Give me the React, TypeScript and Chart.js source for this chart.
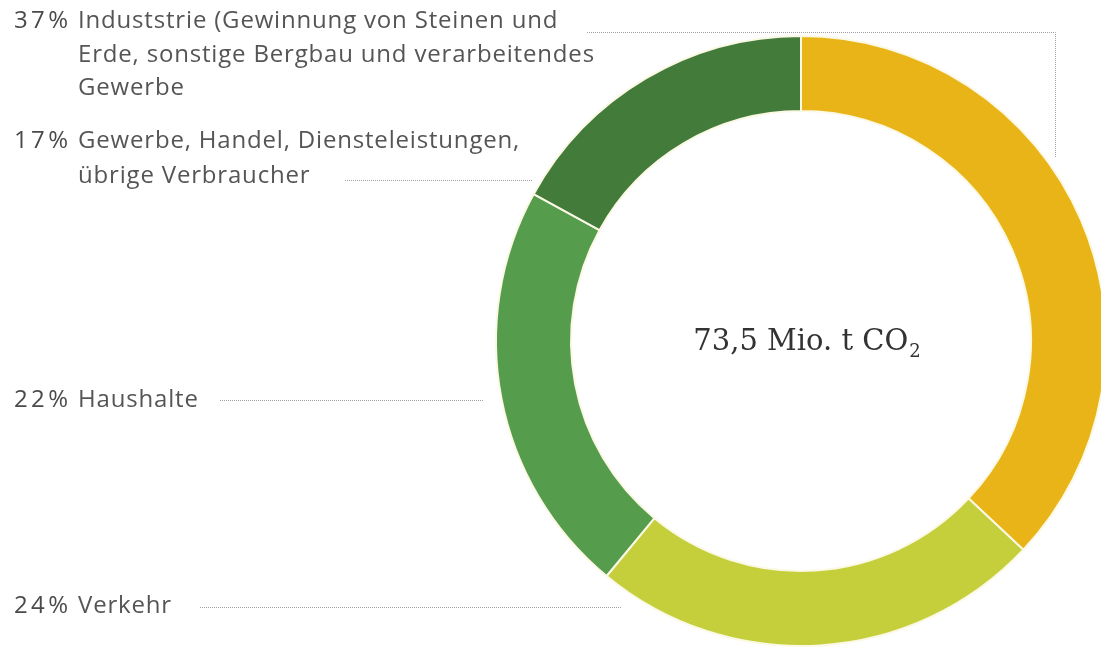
import React, { useEffect, useRef } from "react";
import { Chart, registerables } from "chart.js";

Chart.register(...registerables);

const categories = [
  "Industrie (Gewinnung von Steinen und Erde, sonstige Bergbau und verarbeitendes Gewerbe",
  "Verkehr",
  "Haushalte",
  "Gewerbe, Handel, Diensteleistungen, übrige Verbraucher",
];
const shares = [37, 24, 22, 17];
const colors = ["#E9B418", "#C4CF3B", "#559C4D", "#437B3B"];
const totalLabel = "73,5 Mio. t CO";
const totalSub = "2";

// label lines per category (as printed in the reference)
const industrieLines = ["Induststrie (Gewinnung von Steinen und", "Erde, sonstige Bergbau und verarbeitendes", "Gewerbe"];
const verkehrLines = ["Verkehr"];
const haushalteLines = ["Haushalte"];
const gewerbeLines = ["Gewerbe, Handel, Diensteleistungen,", "übrige Verbraucher"];

export default function App() {
  const ref = useRef<HTMLCanvasElement | null>(null);

  useEffect(() => {
    document.body.style.margin = "0";
    const canvas = ref.current;
    if (!canvas) return;

    const labelFont = "24px 'Open Sans'";
    const textColor = "#555555";
    const pctColor = "#4a4a4a";
    const dotColor = "#a0a0a0";

    const annot = {
      id: "annot",
      afterDraw(chart: any) {
        const ctx = chart.ctx as any;
        ctx.save();
        // dotted leader lines
        ctx.strokeStyle = dotColor;
        ctx.lineWidth = 1;
        ctx.setLineDash([1, 1]);
        const seg = (pts: number[][]) => {
          ctx.beginPath();
          ctx.moveTo(pts[0][0], pts[0][1]);
          for (let i = 1; i < pts.length; i++) ctx.lineTo(pts[i][0], pts[i][1]);
          ctx.stroke();
        };
        seg([[587, 32.5], [1055.5, 32.5], [1055.5, 157]]);
        seg([[345, 180.5], [532, 180.5]]);
        seg([[220, 400.5], [483, 400.5]]);
        seg([[200, 607.5], [622, 607.5]]);
        ctx.setLineDash([]);

        // labels
        ctx.font = labelFont;
        ctx.letterSpacing = "0px";
        const refLine = industrieLines[1];
        const natural = ctx.measureText(refLine).width;
        const spacing = Math.max(0, (517 - natural) / refLine.length);
        const pctNatural = ctx.measureText("37%").width;
        const pctSpacing = Math.max(0, (54 - pctNatural) / 2);
        ctx.textBaseline = "alphabetic";
        ctx.textAlign = "left";
        const pctX = 14;
        const nameX = 78;
        const block = (idx: number, lines: string[], y0: number, lh: number) => {
          ctx.letterSpacing = pctSpacing.toFixed(2) + "px";
          ctx.fillStyle = pctColor;
          ctx.fillText(shares[idx] + "%", pctX, y0);
          ctx.letterSpacing = spacing.toFixed(2) + "px";
          ctx.fillStyle = textColor;
          lines.forEach((l, i) => ctx.fillText(l, nameX, y0 + i * lh));
        };
        block(0, industrieLines, 28, 33.5);
        block(3, gewerbeLines, 148, 35);
        block(2, haushalteLines, 407, 0);
        block(1, verkehrLines, 613, 0);
        ctx.letterSpacing = "0px";

        // center total
        const mainFont = "29px 'DejaVu Serif'";
        const subFont = "18px 'DejaVu Serif'";
        ctx.textAlign = "left";
        ctx.font = mainFont;
        const w1 = ctx.measureText(totalLabel).width;
        ctx.font = subFont;
        const w2 = ctx.measureText(totalSub).width;
        const cx = 807;
        const startX = cx - (w1 + w2 + 1) / 2;
        ctx.fillStyle = "#333333";
        ctx.font = mainFont;
        ctx.fillText(totalLabel, startX, 350);
        ctx.font = subFont;
        ctx.fillText(totalSub, startX + w1 + 1, 357);
        ctx.restore();
      },
    };

    const chart = new Chart(canvas, {
      type: "doughnut",
      data: {
        labels: categories,
        datasets: [
          {
            data: shares,
            backgroundColor: colors,
            borderColor: "#fbf8e4",
            borderWidth: 2,
            clip: false as any,
          },
        ],
      },
      options: {
        responsive: false,
        animation: false,
        devicePixelRatio: 1,
        radius: 305,
        cutout: "75.4%",
        layout: { padding: { left: 501, right: 0, top: 32, bottom: 0 } },
        plugins: {
          legend: { display: false },
          tooltip: { enabled: false },
        },
      } as any,
      plugins: [annot],
    });
    return () => chart.destroy();
  }, []);

  return (
    <div style={{ position: "fixed", left: 0, top: 0, width: 1101, height: 650, overflow: "hidden", background: "#ffffff" }}>
      <canvas ref={ref} width={1101} height={650} style={{ width: 1101, height: 650, display: "block" }} />
    </div>
  );
}
